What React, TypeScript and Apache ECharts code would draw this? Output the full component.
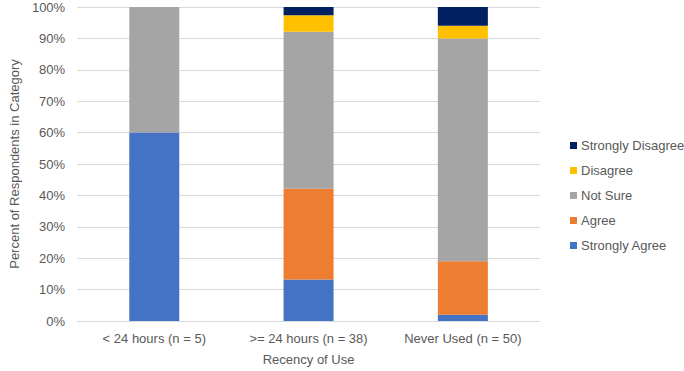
import React, { useEffect, useRef } from "react";
import * as echarts from "echarts";

const categories = ["< 24 hours (n = 5)", ">= 24 hours (n = 38)", "Never Used (n = 50)"];
const stronglyAgree = [60, 13.2, 2];
const agree = [0, 28.9, 17];
const notSure = [40, 50, 71];
const disagree = [0, 5.3, 4];
const stronglyDisagree = [0, 2.6, 6];
const legendOrder = ["Strongly Disagree", "Disagree", "Not Sure", "Agree", "Strongly Agree"];

const FONT = "'Liberation Sans', Arial, sans-serif";
const TXT = "#595959";

export default function App() {
  const ref = useRef<HTMLDivElement>(null);
  useEffect(() => {
    if (!ref.current) return;
    const chart = echarts.init(ref.current, undefined, { renderer: "svg" });
    const mk = (name: string, data: number[], color: string) => ({
      name,
      type: "bar",
      stack: "total",
      data,
      barWidth: 50,
      itemStyle: { color },
      emphasis: { disabled: true },
    });
    chart.setOption({
      animation: false,
      textStyle: { fontFamily: FONT },
      grid: { left: 66, right: 144, top: 7, bottom: 46 },
      legend: {
        orient: "vertical",
        left: 565,
        top: 134,
        data: legendOrder,
        itemWidth: 7,
        itemHeight: 7,
        itemGap: 12,
        icon: "rect",
        textStyle: { color: TXT, fontSize: 13, fontFamily: FONT, padding: [0, 0, 0, -1] },
      },
      xAxis: {
        type: "category",
        data: categories,
        name: "Recency of Use",
        nameLocation: "middle",
        nameGap: 32,
        nameTextStyle: { color: TXT, fontSize: 13, fontFamily: FONT },
        axisLine: { show: true, lineStyle: { color: "#D9D9D9" } },
        axisTick: { show: false },
        axisLabel: { color: TXT, fontSize: 13, margin: 11, fontFamily: FONT },
      },
      yAxis: {
        type: "value",
        min: 0,
        max: 100,
        interval: 10,
        name: "Percent of Respondents in Category",
        nameLocation: "middle",
        nameGap: 55,
        nameTextStyle: { color: TXT, fontSize: 13, fontFamily: FONT },
        axisLine: { show: false },
        axisTick: { show: false },
        splitLine: { lineStyle: { color: "#D9D9D9" } },
        axisLabel: { color: TXT, fontSize: 13, margin: 12, formatter: "{value}%", fontFamily: FONT },
      },
      series: [
        mk("Strongly Agree", stronglyAgree, "#4472C4"),
        mk("Agree", agree, "#ED7D31"),
        mk("Not Sure", notSure, "#A5A5A5"),
        mk("Disagree", disagree, "#FFC000"),
        mk("Strongly Disagree", stronglyDisagree, "#002060"),
      ],
    });
    return () => chart.dispose();
  }, []);
  return <div ref={ref} style={{ width: 684, height: 371, position: "absolute", left: 0, top: 0 }} />;
}
